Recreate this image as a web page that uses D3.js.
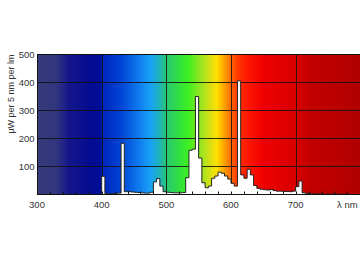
<!DOCTYPE html>
<html><head><meta charset="utf-8">
<script src="https://cdn.jsdelivr.net/npm/d3@7"></script>
<style>html,body{margin:0;padding:0;background:#fff;overflow:hidden} text{font-family:"Liberation Sans",Arial,sans-serif;}</style>
</head><body><svg id="c" width="360" height="262"></svg>
<script>
// Spectrum: 5 nm bins (value holds from wavelength to wavelength+5)
const wavelengths = [395,400,405,410,415,420,425,430,435,440,445,450,455,460,465,470,475,480,485,490,495,
  500,505,510,515,520,525,530,535,540,545,550,555,560,565,570,575,580,585,590,595,
  600,605,610,615,620,625,630,635,640,645,650,655,660,665,670,675,680,685,690,695,
  700,705,710,715,720,725,730,735,740,745,750,755,760,765,770,775,780,785];
const values = [0,65,3,2,3,4,5,183,10,10,9,8,7,6,5,5,8,45,57,30,10,
  8,7,6,6,6,7,60,158,162,350,130,42,24,30,58,66,80,76,66,55,
  40,30,406,70,58,90,70,32,22,19,17,16,18,14,12,12,11,11,10,12,
  28,48,6,4,3,2,2,2,1,1,1,1,1,1,1,1,0,0];
const xTickLabels = [300,400,500,600,700];
const yTickLabels = [100,200,300,400,500];
const minorTicks = [300,320,340,360,380,400,420,440,460,480,500,520,540,560,580,600,620,640,660,680,700,720,740,760,780];
const gradStops = [300,330,350,380,398,402,430,460,475,490,500,520,535,555,570,578,590,600,610,625,650,700,720,800];
const gradColors = ["#383c7a","#30357f","#14168a","#040c90","#000e98","#0026bc","#0044d6","#1080f0","#18a0f6","#20b4b8","#28c672","#30e040","#40f020","#a0e420","#e0e010","#ffe000","#ffa000","#ff6a00","#ff3800","#ff1800","#f00000","#d80000","#c40000","#b00000"];
const yTitle = "µW per 5 nm per lm";
const xUnit = "λ nm";

const svg = d3.select("#c");
const x = d3.scaleLinear().domain([300,800]).range([37,360.3]);
const y = d3.scaleLinear().domain([0,500]).range([194.5,54.5]);

const defs = svg.append("defs");
const grad = defs.append("linearGradient").attr("id","spec").attr("gradientUnits","userSpaceOnUse")
  .attr("x1",x(300)).attr("x2",x(800)).attr("y1",0).attr("y2",0);
gradStops.forEach((w,i)=>grad.append("stop").attr("offset",(w-300)/500).attr("stop-color",gradColors[i]));

svg.append("rect").attr("x",x(300)).attr("y",y(500)).attr("width",x(800)-x(300)).attr("height",y(0)-y(500)).attr("fill","url(#spec)");

// grid
const g = svg.append("g").attr("stroke","#111").attr("stroke-width",1).attr("stroke-opacity",0.85);
yTickLabels.slice(0,4).forEach(v=>g.append("line").attr("x1",x(300)).attr("x2",x(800)).attr("y1",y(v)).attr("y2",y(v)));
xTickLabels.slice(1).forEach(w=>{const xx=Math.round(x(w))+0.5; g.append("line").attr("x1",xx).attr("x2",xx).attr("y1",y(0)).attr("y2",y(500));});

const data = wavelengths.map((w,i)=>({w, v: values[i]}));
const area = d3.area().x(d=>x(d.w)).y0(y(0)).y1(d=>y(d.v)).curve(d3.curveStepAfter);
const line = d3.line().x(d=>x(d.w)).y(d=>y(d.v)).curve(d3.curveStepAfter);
svg.append("path").datum(data).attr("d",area).attr("fill","#fff");
svg.append("path").datum(data).attr("d",line).attr("fill","none").attr("stroke","#222").attr("stroke-width",1);

// border
svg.append("rect").attr("x",x(300)+0.5).attr("y",y(500)).attr("width",x(800)-x(300)).attr("height",y(0)-y(500))
  .attr("fill","none").attr("stroke","#111").attr("stroke-width",1);

// minor ticks
svg.append("g").selectAll("line").data(minorTicks).join("line")
  .attr("x1",d=>Math.round(x(d))+0.5).attr("x2",d=>Math.round(x(d))+0.5).attr("y1",y(0)).attr("y2",y(0)-3)
  .attr("stroke","#111").attr("stroke-width",1);

// labels
svg.append("g").selectAll("text").data(xTickLabels).join("text")
  .attr("x",d=>x(d)).attr("y",208).attr("text-anchor","middle").attr("font-size",9.5).attr("fill","#333").text(d=>d);
svg.append("g").selectAll("text").data(yTickLabels).join("text")
  .attr("x",34.5).attr("y",d=>y(d)+3.5).attr("text-anchor","end").attr("font-size",9.5).attr("fill","#333").text(d=>d);
svg.append("text").attr("x",337).attr("y",208).attr("font-size",9.5).attr("fill","#333").text(xUnit);
svg.append("text").attr("transform","translate(13.5,94) rotate(-90)").attr("text-anchor","middle")
  .attr("font-size",9).attr("fill","#333").text(yTitle);
</script></body></html>
